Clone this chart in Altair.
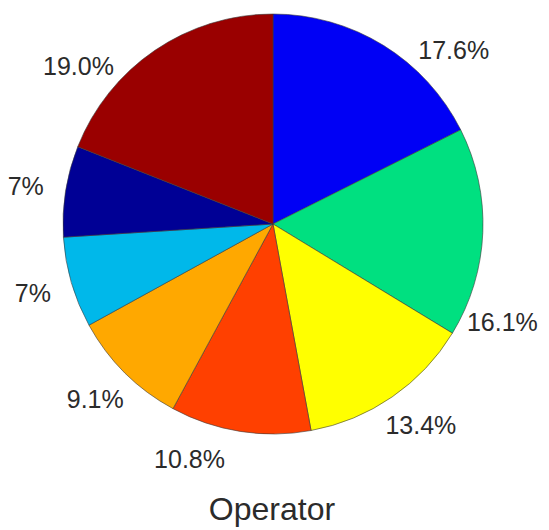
import altair as alt
import pandas as pd

categories = ["S1", "S2", "S3", "S4", "S5", "S6", "S7", "S8"]
values = [17.6, 16.1, 13.4, 10.8, 9.1, 7.0, 7.0, 19.0]
labels = ["17.6%", "16.1%", "13.4%", "10.8%", "9.1%", "7%", "7%", "19.0%"]
colors = ["#0000f5", "#00e080", "#ffff00", "#ff4000", "#ffa800",
          "#00b8ea", "#000095", "#9a0000"]
title_text = "Operator"

# layout nudges (degrees) applied to the label angle, as in the reference
label_nudge = [14.6, 21.1, -1.7, 10.5, 0.5, 0.0, -0.5, -16.9]

df = pd.DataFrame({
    "cat": categories,
    "value": values,
    "label": labels,
    "idx": list(range(len(categories))),
})
total = df["value"].sum()
df["mid_deg"] = (df["value"].cumsum() - df["value"] / 2) / total * 360.0
df["label_deg"] = df["mid_deg"] + pd.Series(label_nudge)

cx, cy = 265, 216

arcs = alt.Chart(df).mark_arc(outerRadius=210, stroke="#3a3a3a", strokeWidth=0.6).encode(
    theta=alt.Theta("value:Q", stack=True),
    order=alt.Order("idx:Q"),
    color=alt.Color("cat:N", scale=alt.Scale(domain=categories, range=colors), legend=None),
    x=alt.value(cx),
    y=alt.value(cy),
)

text = alt.Chart(df).mark_text(radius=250, font="Liberation Sans", fontSize=25, color="#2b2b2b",
                               align="center", baseline="middle").encode(
    theta=alt.Theta("label_deg:Q", stack=False,
                    scale=alt.Scale(domain=[0, 360], range=[0, 6.283185307179586])),
    text="label:N",
    x=alt.value(cx),
    y=alt.value(cy),
)

title = alt.Chart(pd.DataFrame({"t": [title_text]})).mark_text(
    font="Liberation Sans", fontSize=32, color="#2b2b2b", align="center", baseline="alphabetic"
).encode(text="t:N", x=alt.value(264), y=alt.value(512))

chart = alt.layer(arcs, text, title).resolve_scale(theta="independent").properties(
    width=533, height=522, autosize=alt.AutoSizeParams(type="none"), padding=0
).configure_view(stroke=None)

chart.save("out.html", embed_options={"renderer": "svg", "actions": False})
